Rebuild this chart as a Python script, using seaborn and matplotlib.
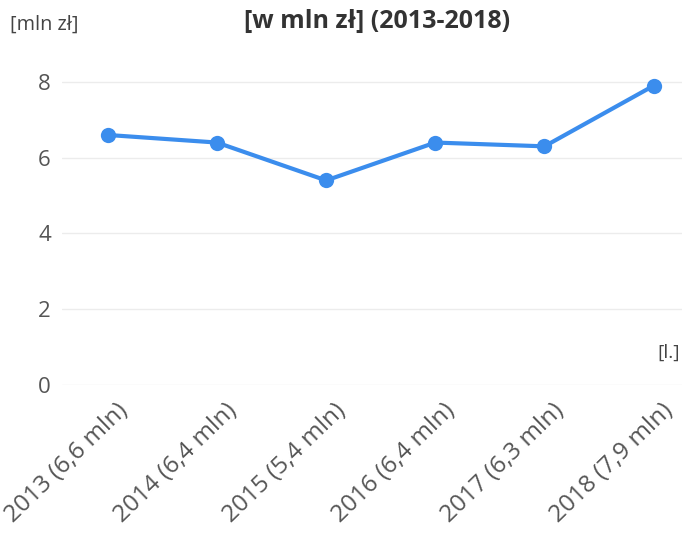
import pandas as pd
import matplotlib.pyplot as plt
import matplotlib.transforms as mtransforms
import seaborn as sns

years = ['2013', '2014', '2015', '2016', '2017', '2018']
values = [6.6, 6.4, 5.4, 6.4, 6.3, 7.9]
tick_labels = [f"{y} ({str(v).replace('.', ',')} mln)" for y, v in zip(years, values)]

df = pd.DataFrame({'rok': tick_labels, 'wartosc': values})

sns.set_style("white")
plt.rcParams['font.family'] = ['Open Sans', 'DejaVu Sans']

fig = plt.figure(figsize=(6.82, 5.43), dpi=100)
ax = fig.add_axes([62 / 682, 1 - 385 / 543, 1 - 62 / 682, (385 - 63) / 543])

sns.lineplot(data=df, x='rok', y='wartosc', ax=ax, color='#3b8ded', linewidth=3,
             marker='o', markersize=11, markeredgewidth=0, sort=False)

ax.set_xlim(-0.42, 5.26)
ax.set_ylim(0, 8.5)
ax.set_yticks([0, 2, 4, 6, 8])
ax.yaxis.grid(True, color='#ececec', linewidth=1)
ax.set_axisbelow(True)
for s in ax.spines.values():
    s.set_visible(False)
ax.tick_params(axis='y', length=0, labelsize=16, labelcolor='#555555', pad=8)
ax.tick_params(axis='x', length=0, labelsize=17.5, labelcolor='#555555', pad=10)
offset = mtransforms.ScaledTranslation(8 / 100, 0, fig.dpi_scale_trans)
for lab in ax.get_xticklabels():
    lab.set_rotation(44)
    lab.set_ha('right')
    lab.set_va('top')
    lab.set_rotation_mode('anchor')
    lab.set_transform(lab.get_transform() + offset)
ax.set_xlabel('')
ax.set_ylabel('')

fig.text(377 / 682, 1 - 21 / 543, '[w mln zł] (2013-2018)', ha='center', va='center',
         fontsize=18, fontweight='bold', color='#333333')
fig.text(10 / 682, 1 - 25 / 543, '[mln zł]', ha='left', va='center', fontsize=14.3, color='#444444')
fig.text(680 / 682, 1 - 353 / 543, '[l.]', ha='right', va='center', fontsize=14, color='#444444')

fig.savefig('out.png', dpi=100)
